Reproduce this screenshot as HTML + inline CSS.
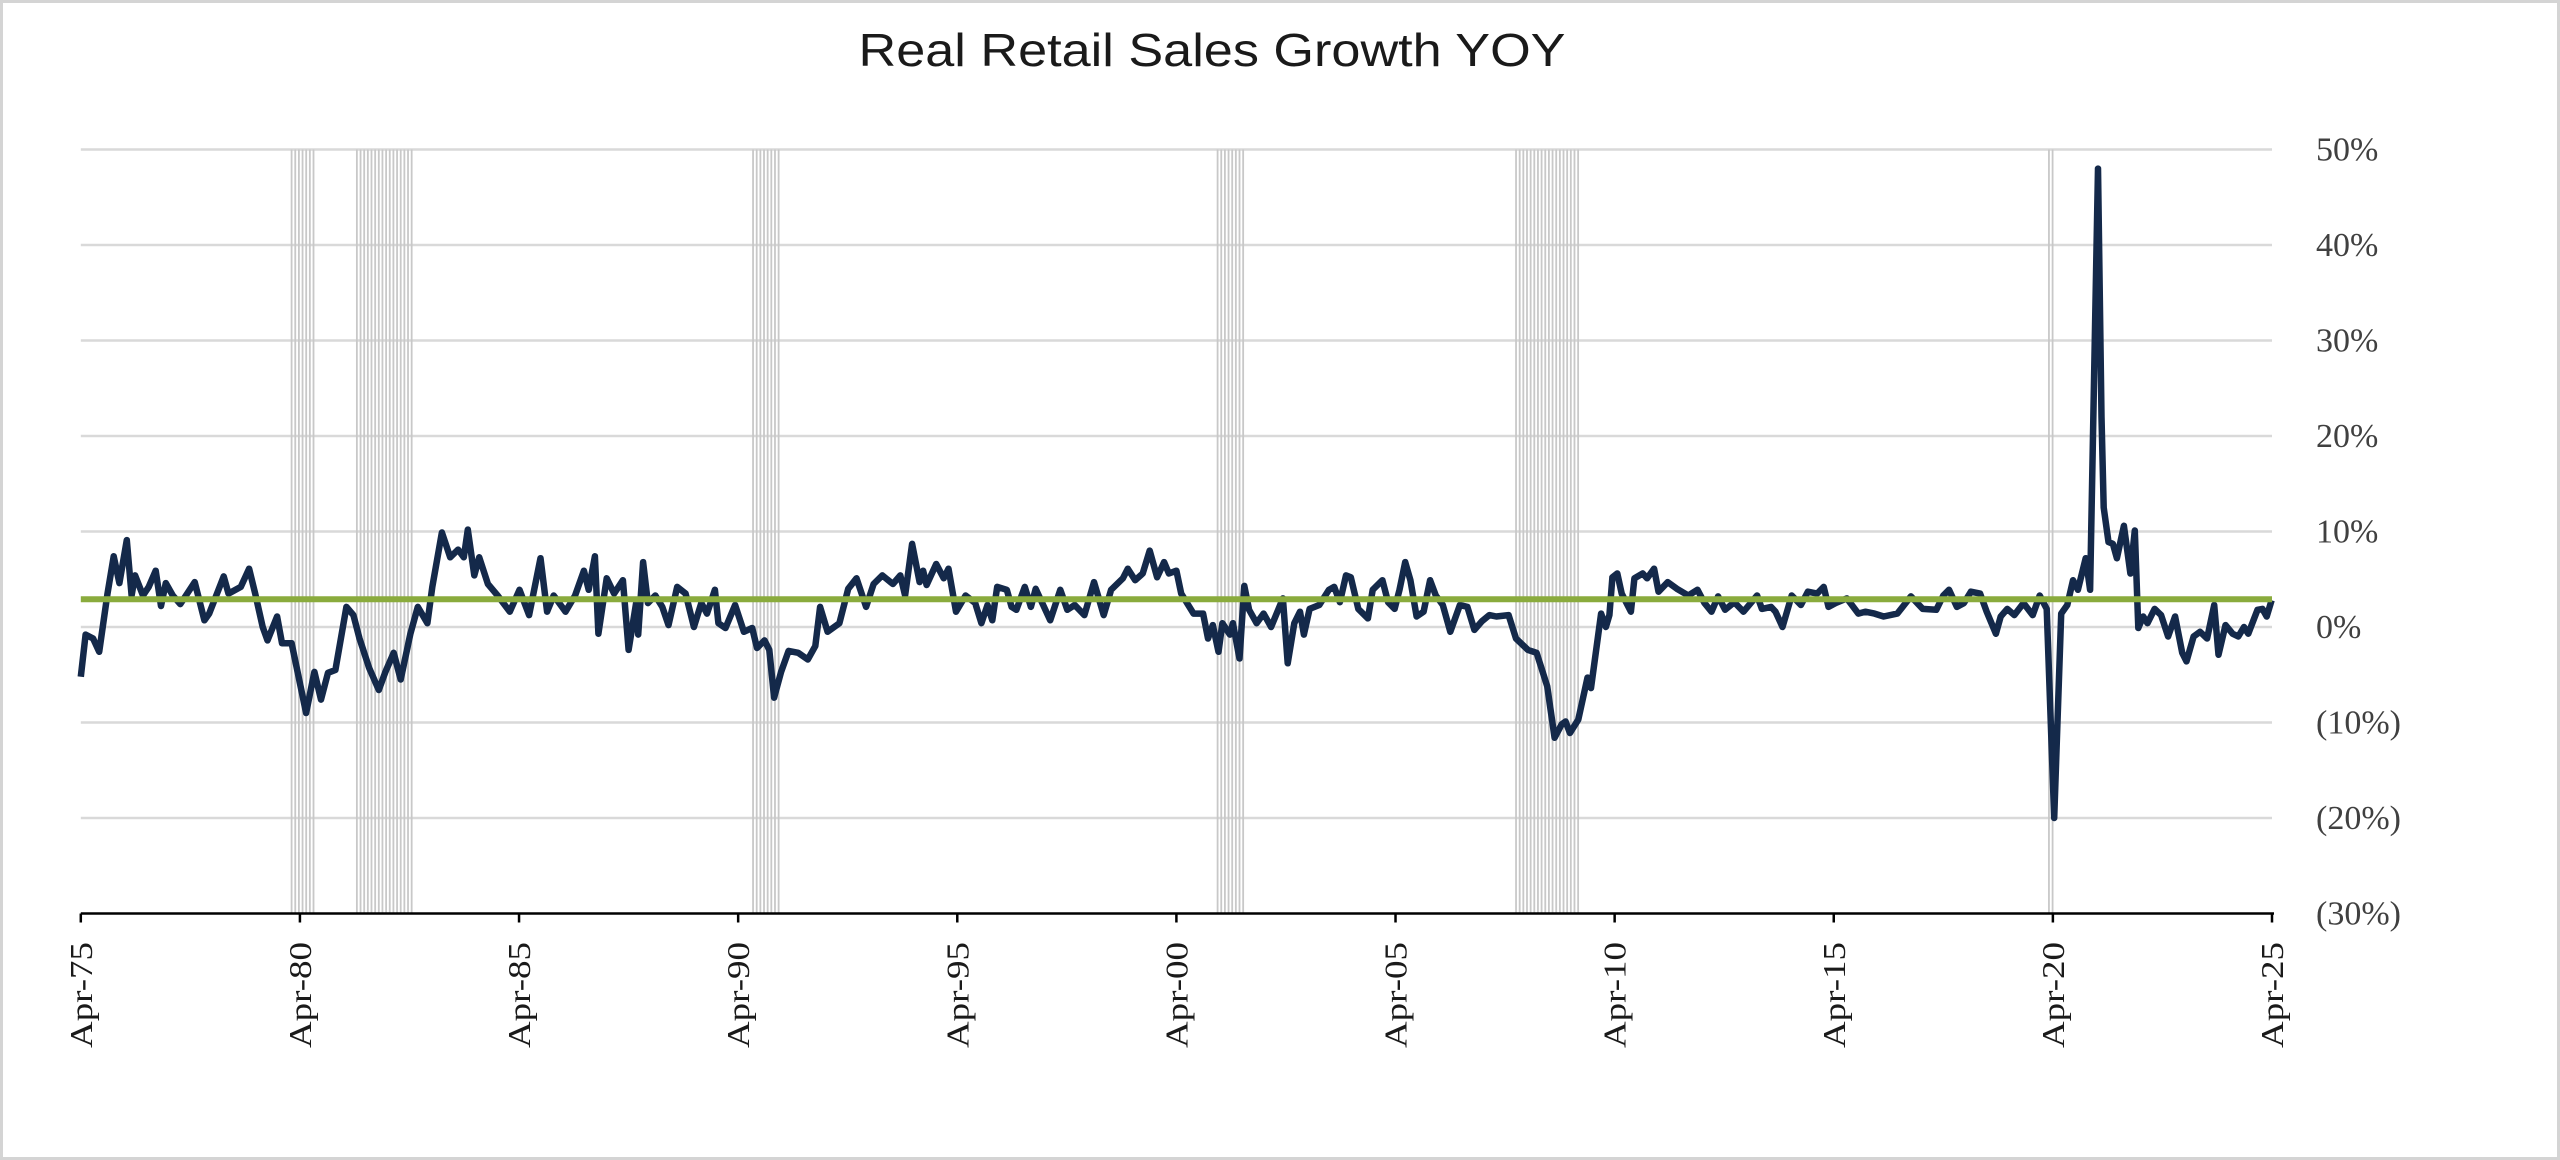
<!DOCTYPE html>
<html><head><meta charset="utf-8"><style>
html,body{margin:0;padding:0;background:#fff;}
svg{display:block;}
</style></head><body>
<svg id="chart" width="2560" height="1160" viewBox="0 0 2560 1160" xmlns="http://www.w3.org/2000/svg">
<rect x="1.5" y="1.5" width="2557" height="1157" fill="#fff" stroke="#d4d4d4" stroke-width="3"/>
<text x="1212" y="66" text-anchor="middle" font-family="Liberation Sans, sans-serif" font-size="46" fill="#1a1a1a" textLength="707" lengthAdjust="spacingAndGlyphs">Real Retail Sales Growth YOY</text>
<g id="grid"></g><g id="rec"></g><g id="marks"></g><g id="axes"></g>
</svg>
<script>
const yTicks=[50,40,30,20,10,0,-10,-20,-30];
const yTickLabels=["50%","40%","30%","20%","10%","0%","(10%)","(20%)","(30%)"];
const xTickYears=[1975.25,1980.25,1985.25,1990.25,1995.25,2000.25,2005.25,2010.25,2015.25,2020.25,2025.25];
const xTickLabels=["Apr-75","Apr-80","Apr-85","Apr-90","Apr-95","Apr-00","Apr-05","Apr-10","Apr-15","Apr-20","Apr-25"];
const recessionStart=[1980.06,1981.55,1990.59,2001.19,2008.0,2020.16];
const recessionEnd=[1980.58,1982.88,1991.23,2001.85,2009.47,2020.31];
const averageGrowth=[2.9];
const dates=[1975.25,1975.36,1975.53,1975.67,1975.86,1976.00,1976.13,1976.30,1976.41,1976.49,1976.67,1976.80,1976.96,1977.08,1977.19,1977.35,1977.52,1977.85,1978.07,1978.18,1978.51,1978.62,1978.90,1979.09,1979.23,1979.40,1979.51,1979.73,1979.84,1980.06,1980.17,1980.39,1980.58,1980.73,1980.89,1981.06,1981.31,1981.47,1981.61,1981.83,1982.05,1982.20,1982.39,1982.55,1982.77,1982.94,1983.16,1983.27,1983.49,1983.68,1983.86,1983.99,1984.08,1984.23,1984.34,1984.54,1984.76,1985.04,1985.26,1985.48,1985.74,1985.89,1986.04,1986.31,1986.53,1986.73,1986.84,1986.98,1987.06,1987.25,1987.42,1987.62,1987.75,1987.92,1987.97,1988.08,1988.19,1988.36,1988.52,1988.66,1988.86,1989.05,1989.24,1989.41,1989.54,1989.72,1989.80,1989.96,1990.18,1990.38,1990.57,1990.68,1990.85,1990.96,1991.07,1991.23,1991.40,1991.62,1991.84,1992.01,1992.12,1992.29,1992.56,
1992.76,1992.95,1993.17,1993.34,1993.54,1993.78,1993.95,1994.06,1994.22,1994.39,1994.47,1994.55,1994.77,1994.94,1995.05,1995.22,1995.44,1995.66,1995.80,1995.94,1996.05,1996.16,1996.38,1996.49,1996.60,1996.79,1996.93,1997.04,1997.37,1997.60,1997.76,1997.93,1998.15,1998.37,1998.59,1998.76,1999.03,1999.14,1999.31,1999.48,1999.64,1999.81,1999.97,2000.08,2000.25,2000.36,2000.64,2000.86,2000.97,2001.08,2001.21,2001.30,2001.47,2001.54,2001.69,2001.80,2001.91,2002.08,2002.24,2002.41,2002.68,2002.79,2002.94,2003.07,2003.16,2003.29,2003.51,2003.73,2003.85,2003.98,2004.12,2004.23,2004.40,2004.62,2004.73,2004.95,2005.08,2005.23,2005.34,2005.47,2005.59,2005.73,2005.89,2006.04,2006.17,2006.33,2006.50,2006.72,2006.89,2007.05,2007.22,2007.39,2007.55,2007.83,2008.00,2008.27,2008.47,2008.71,2008.88,2009.04,
2009.13,2009.23,2009.42,2009.63,2009.71,2009.94,2010.05,2010.13,2010.20,2010.31,2010.41,2010.62,2010.70,2010.89,2010.99,2011.15,2011.25,2011.46,2011.67,2011.93,2012.14,2012.30,2012.46,2012.61,2012.77,2012.98,2013.19,2013.50,2013.61,2013.82,2013.92,2014.08,2014.29,2014.50,2014.66,2014.87,2015.02,2015.13,2015.29,2015.55,2015.81,2015.97,2016.18,2016.39,2016.70,2017.01,2017.28,2017.59,2017.75,2017.88,2018.06,2018.22,2018.38,2018.59,2018.74,2018.95,2019.06,2019.21,2019.37,2019.58,2019.79,2019.95,2020.11,2020.28,2020.44,2020.58,2020.71,2020.82,2021.00,2021.10,2021.28,2021.36,2021.41,2021.52,2021.62,2021.71,2021.87,2022.02,2022.12,2022.20,2022.31,2022.41,2022.57,2022.72,2022.88,2023.04,2023.20,2023.30,2023.46,2023.61,2023.77,2023.93,2024.03,2024.19,2024.35,2024.48,2024.61,2024.71,2024.92,2025.03,2025.13,2025.24];
const growth=[-5.2,-0.8,-1.2,-2.6,3.5,7.4,4.6,9.1,3.3,5.4,3.3,4.2,5.9,2.2,4.6,3.3,2.4,4.7,0.7,1.4,5.3,3.5,4.2,6.1,3.5,0,-1.4,1.1,-1.7,-1.7,-4.1,-9.0,-4.7,-7.6,-4.8,-4.5,2.1,1.25,-1.2,-4.3,-6.6,-4.7,-2.7,-5.5,-0.7,2.1,0.4,4.2,9.9,7.3,8.1,7.3,10.2,5.4,7.3,4.5,3.3,1.6,3.9,1.25,7.2,1.6,3.3,1.6,3.3,5.9,3.9,7.4,-0.7,5.1,3.5,4.9,-2.4,2.5,-0.8,6.8,2.5,3.3,2.1,0.2,4.2,3.5,0,2.5,1.4,3.9,0.4,-0.1,2.3,-0.5,-0.1,-2.2,-1.4,-2.4,-7.4,-4.7,-2.5,-2.7,-3.4,-2.0,2.1,-0.5,0.4,
4.0,5.1,2.1,4.5,5.4,4.5,5.4,3.3,8.7,4.7,5.9,4.4,6.6,5.1,6.1,1.6,3.3,2.5,0.4,2.3,0.7,4.2,3.9,2.1,1.8,4.2,2.1,4.0,0.7,3.9,1.8,2.3,1.25,4.7,1.25,3.9,5.1,6.1,4.9,5.6,8.0,5.2,6.8,5.6,5.9,3.5,1.4,1.4,-1.2,0.2,-2.6,0.4,-0.8,0.4,-3.3,4.3,1.8,0.4,1.4,0,3.0,-3.8,0.4,1.6,-0.8,1.9,2.3,3.9,4.2,2.6,5.4,5.2,1.9,0.9,3.9,4.9,2.6,1.9,3.9,6.8,4.9,1.1,1.6,4.9,3.3,2.3,-0.5,2.3,2.1,-0.3,0.6,1.25,1.1,1.25,-1.2,-2.4,-2.7,-6.2,-11.6,-10.2,
-9.9,-11.1,-9.7,-5.3,-6.4,1.4,0,1.25,5.2,5.6,3.5,1.6,5.1,5.6,5.1,6.1,3.7,4.7,4.0,3.3,3.9,2.5,1.6,3.2,1.8,2.6,1.6,3.3,1.9,2.1,1.6,0,3.3,2.3,3.7,3.5,4.2,2.1,2.5,3.0,1.4,1.6,1.4,1.1,1.4,3.2,1.9,1.8,3.3,3.9,2.1,2.5,3.7,3.5,1.6,-0.7,1.1,1.9,1.25,2.5,1.25,3.3,1.9,-20,1.4,2.3,4.9,3.9,7.2,3.9,48,22,12.5,8.9,8.7,7.2,10.6,5.6,10.1,-0.1,1.1,0.4,1.9,1.25,-1.0,1.1,-2.7,-3.6,-1.0,-0.5,-1.2,2.3,-2.9,0.2,-0.7,-1.0,0,-0.7,1.8,1.9,1.1,2.8];

const NS="http://www.w3.org/2000/svg";
const X0=80.8,X1=2272,T0=1975.25,T1=2025.25,Y0=627,PER=9.55;
function xs(t){return X0+(t-T0)*(X1-X0)/(T1-T0);}
function ys(v){return Y0-v*PER;}
function mk(tag,attrs,parent){const e=document.createElementNS(NS,tag);for(const k in attrs)e.setAttribute(k,attrs[k]);parent.appendChild(e);return e;}
const grid=document.getElementById('grid'),rec=document.getElementById('rec'),marks=document.getElementById('marks'),axes=document.getElementById('axes');
yTicks.forEach((v,i)=>{
  if(v>-30){const l=mk('line',{x1:X0,x2:X1,y1:ys(v),y2:ys(v),stroke:'#d9d9d9','stroke-width':2.5},grid);
  
  }
  const t=mk('text',{x:2316,y:ys(v)+11,'font-family':'Liberation Serif, serif','font-size':34,fill:'#404040'},axes);
  t.textContent=yTickLabels[i];
  
  
});
recessionStart.forEach((s,i)=>{
  for(let t=s;t<=recessionEnd[i]+0.001;t+=1/12){
    const l=mk('line',{x1:xs(t),x2:xs(t),y1:ys(50),y2:ys(-30),stroke:'#c8c8c8','stroke-width':1.8},rec);
    
    
  }
});
let d='';dates.forEach((t,i)=>{d+=(i?'L':'M')+xs(t).toFixed(1)+','+ys(growth[i]).toFixed(1);});
const p=mk('path',{d:d,fill:'none',stroke:'#14294a','stroke-width':6.5,'stroke-linejoin':'round'},marks);


const avg=mk('line',{x1:X0,x2:X1,y1:ys(averageGrowth[0]),y2:ys(averageGrowth[0]),stroke:'#8aab3d','stroke-width':6},marks);


const ax=mk('line',{x1:X0,x2:X1+2,y1:ys(-30),y2:ys(-30),stroke:'#000','stroke-width':2.5},axes);


xTickYears.forEach((t,i)=>{
  const tk=mk('line',{x1:xs(t),x2:xs(t),y1:ys(-30),y2:ys(-30)+9,stroke:'#000','stroke-width':2.5},axes);
  
  
  const x=xs(t)+11,y=942;
  const tx=mk('text',{x:x,y:y,'text-anchor':'end',transform:'rotate(-90 '+x+' '+y+')','font-family':'Liberation Serif, serif','font-size':32,fill:'#1a1a1a',textLength:106,lengthAdjust:'spacingAndGlyphs'},axes);
  tx.textContent=xTickLabels[i];
  
  
});
</script>
</body></html>
